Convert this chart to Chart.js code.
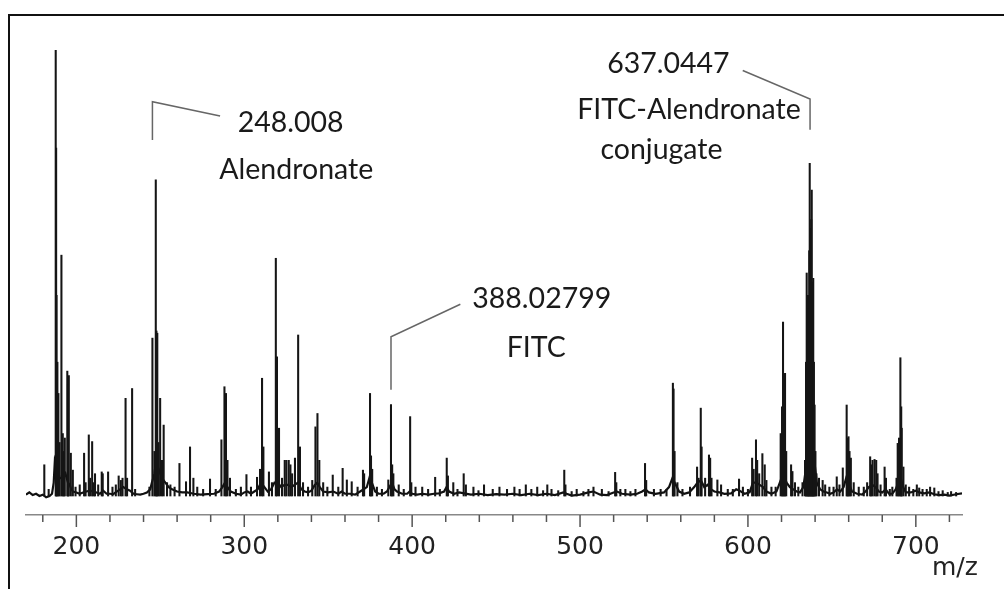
<!DOCTYPE html>
<html><head><meta charset="utf-8">
<script src="https://cdn.jsdelivr.net/npm/chart.js@4.4.0/dist/chart.umd.min.js"></script>
<style>html,body{margin:0;padding:0;background:#fff;}canvas{display:block;}</style>
</head><body>
<canvas id="c" width="1004" height="589"></canvas>
<script>
// ---- data (m/z, relative intensity) ----
const peakMz = [180.9,183.5,187.7,187.95,188.2,188.7,189.3,190.0,191.1,191.9,192.5,193.1,194.6,195.0,195.5,196.7,197.9,199.5,202.0,204.6,205.5,207.4,208.2,209.4,210.3,211.1,213.0,215.1,215.7,218.9,221.5,223.5,225.2,226.5,227.5,229.3,230.2,233.2,235.0,243.5,245.3,246.5,247.3,247.7,248.2,248.9,249.9,251.0,252.0,254.0,256.0,258.5,261.4,265.3,267.7,269.7,272.0,275.5,279.6,283.0,286.4,288.2,289.1,290.0,291.5,295.0,298.0,301.3,304.0,307.6,309.4,310.6,311.4,314.7,316.5,318.8,319.5,320.7,322.5,324.1,325.1,326.5,327.5,328.5,330.2,332.1,333.2,335.0,338.0,340.5,342.4,343.6,344.7,347.0,349.5,352.7,356.0,358.6,361.1,364.0,367.5,370.7,371.4,374.9,375.5,376.2,379.0,382.0,385.8,387.4,388.1,388.8,392.0,395.0,398.8,399.5,402.0,406.0,409.5,413.7,416.5,420.6,421.3,424.5,427.0,430.7,432.0,436.5,439.5,442.8,448.0,452.0,456.5,460.9,464.0,467.7,471.0,474.5,478.0,480.5,483.0,487.0,490.6,491.3,495.0,498.0,502.0,505.0,508.0,513.0,517.0,520.9,521.6,524.0,527.0,530.0,533.0,538.7,539.4,544.0,548.0,551.5,555.3,555.7,556.3,558.0,561.0,565.5,569.7,570.6,571.9,572.4,574.5,576.8,577.5,578.3,581.8,584.0,588.0,591.0,594.7,597.0,600.0,602.5,603.4,604.8,605.5,606.7,608.6,610.0,611.0,614.0,616.5,619.5,620.3,620.9,621.5,622.1,622.8,625.7,626.5,628.0,630.0,632.5,634.0,634.6,635.0,635.4,635.8,636.2,636.5,636.8,637.1,637.4,637.7,638.0,638.3,638.6,638.9,639.3,639.7,640.2,640.8,642.3,644.5,646.0,648.5,651.0,652.9,654.5,656.5,658.8,659.3,659.9,660.5,661.3,663.0,666.0,669.0,671.0,672.8,673.4,674.2,675.4,676.4,677.2,679.0,681.4,682.2,684.5,686.0,688.5,689.2,690.0,690.8,691.3,691.6,692.6,694.0,696.0,698.5,700.6,702.0,704.0,706.5,708.5,711.0,713.5,716.0,719.0,721.0,724.0];
const peakInt = [7.0,1.5,100,78,45,30,23,12,54,14,10,13,28,25,27,9.6,5.8,2,2.5,9.6,3,13.7,4,12.2,3,5,2.5,5.4,5,5.4,2,2.5,4.5,3.5,4,21.9,4,24.1,1.5,2,35.4,10,70.9,37,36.5,12,21.9,8,15.9,3,2.5,2,7.3,3.2,11,4,2,1.5,3.8,1.5,12.6,24.5,23,8,4,1.5,2,4.8,2,4.2,6,26.4,11,5.4,3,53.3,31.2,15.2,4,8,8,8,7,5,8.5,36.1,11,3,2,3.5,15.5,18.5,8,3,2,4.7,2,6.2,3.6,3.2,2,5.8,5,23,9,6,2,1.5,3.6,20.5,7,5,2.5,1.5,17.8,3,2,2,1.5,4.2,1.5,8.5,4.5,3,1.5,5,2.5,2,1.2,2.5,1.5,2,1.5,2,1.5,2.5,1.5,2,1.2,2.5,1.5,1.2,5.8,2.5,1.0,1.5,1.0,1.5,2,1.5,1.0,5.3,3,1.5,1.5,1.0,1.5,7.3,3.5,1.5,1.5,1.5,25.3,24,10,3,1.5,2,6.5,4,19.7,11,4,9.2,8.5,4,3.6,2.5,1.5,1.5,3.8,2,1.5,8.5,6,12.6,8,5,9.5,7,3.5,2,2,14,20,39,22,27.5,10,7,5.5,3,2,3,8,30,50,35,45,42,55,74.6,60,52,62,68.6,48,45,48.8,30,20.4,10,5,4,3.5,2.5,2,2,4.3,2.5,6.3,20.4,13,13.3,10,8.5,3,2,2,3,8.8,7,8,8.2,8,5,2.5,6.5,4,1.5,2,4,11.8,13,31,20,15.2,6.5,2.5,2,1.5,2.5,1.8,1.5,1.5,2,1.8,1,1.2,0.8,1,0.8];
const baseMz = [170,172,174,176,178,180,182,184,185.5,186.5,187.2,189,190,192,193.5,195,196,197,198,200,202,204,206,208,210,212,214,216,218,220,222,224,226,228,230,232,234,236,238,240,242,244,245,246.5,247.5,249,251,253,255,257,260,263,266,270,274,278,282,285,287,288.5,290,292,295,298,300,302,304,306,308,310,312,314,316,318,320,322,324,326,328,330,332,334,336,338,340,342,343.5,345,347,350,353,356,358,360,363,366,369,371,373,374.5,376,378,380,383,385,386.5,388,389.5,391,394,397,398.5,400,403,406,410,413,416,419,420.5,422,425,428,431,435,440,445,450,455,460,465,470,475,480,485,490,492,495,500,505,508,512,516,520,522,525,530,534,537,539,541,545,550,553,555,557,559,562,565,568,570,572,574,576,578,580,583,586,590,593,595,598,601,603,605,607,609,611,614,617,619,621,623,625,627,629,631,633,634.5,636,638,639.5,641,643,645,647,649,651,653,655,657,658.5,660,662,665,668,670,672,674,676,678,680,682,684,686,688,689.5,691,692.5,694,697,700,702,705,708,711,714,717,720,724,727.5];
const baseInt = [0.3,0.8,0.2,0.5,0.0,0.3,-0.3,0.0,0.5,3,8,6,4,4,5,3,2.5,1.5,1,0.8,0.5,0.8,1,1.2,1,0.8,0.5,1.2,0.5,0.5,0.4,1,1.5,2,1.5,1.2,0.5,0.4,0.3,0.5,0.8,1.5,3,5,8,6,4,3,2,1.5,1,0.8,0.8,0.5,0.3,0.4,0.5,1,2,3,2,1,0.5,0.3,0.8,1,0.5,1,1.5,3,2,1,1.5,3,3,2,2.5,2.5,2,2.5,3,1.5,1,0.8,1.2,2.5,3,2,1,0.8,1,0.5,1,0.5,0.5,0.3,1,1.5,2,4,3,1,0.5,0.5,1,2,3,1.5,1,0.5,0.5,1,0.5,0.3,0.5,0.3,0.5,0.6,1,2,1,0.5,0.8,0.6,0.3,0.5,0.2,0.4,0.3,0.5,0.2,0.5,0.2,0.5,0.2,0.8,0.5,0.1,0.3,0.8,1,0.3,0.2,0.8,1,0.5,0.3,0.5,1,1.5,0.8,0.5,0.8,2,4,2.5,1,0.5,0.8,2,3,3.5,2,2.5,1.5,1,0.8,0.5,0.6,1.5,1.2,0.5,0.8,3,3,2.5,2,1,0.5,1,3,5,3,2,1.5,1,0.8,2,6,12,12,8,3,1.5,1,0.8,0.5,0.8,1.5,1,2,4,3,1,0.5,0.3,1,2,2.5,2,1,0.8,1.5,0.5,0.5,1.5,3,4,2,0.8,0.8,1.2,0.8,0.6,0.8,0.4,0.2,0.3,0.1,0.4,0.6];
const majorTicks = [200,300,400,500,600,700];
const annMass = ['248.008','388.02799','637.0447'];
const annName = [['Alendronate'],['FITC'],['FITC-Alendronate','conjugate']];

// ---- layout of the annotations (data coordinates) ----
const annLayout = [
  {leader:[[245.3,79.8],[245.3,88.4],[285.6,85.2]], mass:[327.6,81.7], names:[[331.0,71.1]]},
  {leader:[[387.4,23.8],[387.4,35.7],[428.7,43.0]], mass:[477.2,42.1], names:[[473.9,31.1]]},
  {leader:[[637.0,82.1],[637.0,89.0],[596.9,95.4]], mass:[552.6,94.8], names:[[564.9,84.5],[548.5,75.5]]}
];

const barData = peakMz.map((m,i)=>({x:m,y:peakInt[i]}));
const lineData = baseMz.map((m,i)=>({x:m,y:baseInt[i]}));

const decor = {
  id:'decor',
  beforeDraw(chart){
    const ctx=chart.ctx; ctx.save();
    ctx.fillStyle='#fff'; ctx.fillRect(0,0,chart.width,chart.height);
    ctx.strokeStyle='#111'; ctx.lineWidth=2; ctx.strokeRect(9,15,1200,800);
    ctx.restore();
  },
  afterDraw(chart){
    const xs=chart.scales.x, ys=chart.scales.y, ctx=chart.ctx;
    ctx.save();
    ctx.strokeStyle='#555'; ctx.lineWidth=1.5;
    xs.ticks.forEach(t=>{
      const px=xs.getPixelForValue(t.value);
      const len=majorTicks.includes(t.value)?12:7;
      ctx.beginPath(); ctx.moveTo(px,xs.top); ctx.lineTo(px,xs.top+len); ctx.stroke();
    });
    ctx.fillStyle='#222'; ctx.font='25px "DejaVu Sans"'; ctx.textAlign='left'; ctx.textBaseline='alphabetic';
    ctx.fillText('m/z', xs.right-30, xs.top+60);
    ctx.strokeStyle='#666'; ctx.lineWidth=1.5;
    annLayout.forEach((a,i)=>{
      ctx.beginPath();
      a.leader.forEach((p,j)=>{const X=xs.getPixelForValue(p[0]),Y=ys.getPixelForValue(p[1]); j?ctx.lineTo(X,Y):ctx.moveTo(X,Y);});
      ctx.stroke();
      ctx.fillStyle='#1a1a1a'; ctx.font='28.5px Lato'; ctx.textAlign='center';
      ctx.fillText(annMass[i], xs.getPixelForValue(a.mass[0]), ys.getPixelForValue(a.mass[1]));
      annName[i].forEach((s,k)=>{
        ctx.fillText(s, xs.getPixelForValue(a.names[k][0]), ys.getPixelForValue(a.names[k][1]));
      });
    });
    ctx.restore();
  }
};

new Chart(document.getElementById('c'),{
  data:{datasets:[
    {type:'line', data:lineData, borderColor:'#111', borderWidth:2.2, pointRadius:0, tension:0, order:2},
    {type:'bar', data:barData, backgroundColor:'#151515', borderWidth:0, barThickness:1.4, order:1}
  ]},
  options:{
    responsive:false, animation:false, devicePixelRatio:1,
    layout:{padding:{left:26,right:42,top:50,bottom:0}},
    plugins:{legend:{display:false},tooltip:{enabled:false}},
    scales:{
      x:{type:'linear', min:170, max:727.5, offset:false,
         afterFit:(s)=>{ s.height = 74; },
         grid:{display:false, drawTicks:false, offset:false},
         border:{display:true, color:'#888', width:1.5},
         ticks:{stepSize:20, includeBounds:false, autoSkip:false, maxRotation:0, padding:17, color:'#222',
                font:{family:'DejaVu Sans', size:25},
                callback:(v)=>majorTicks.includes(v)?String(v):''}},
      y:{type:'linear', display:false, min:-4.26, max:100}
    }
  },
  plugins:[decor]
});
</script>
</body></html>
